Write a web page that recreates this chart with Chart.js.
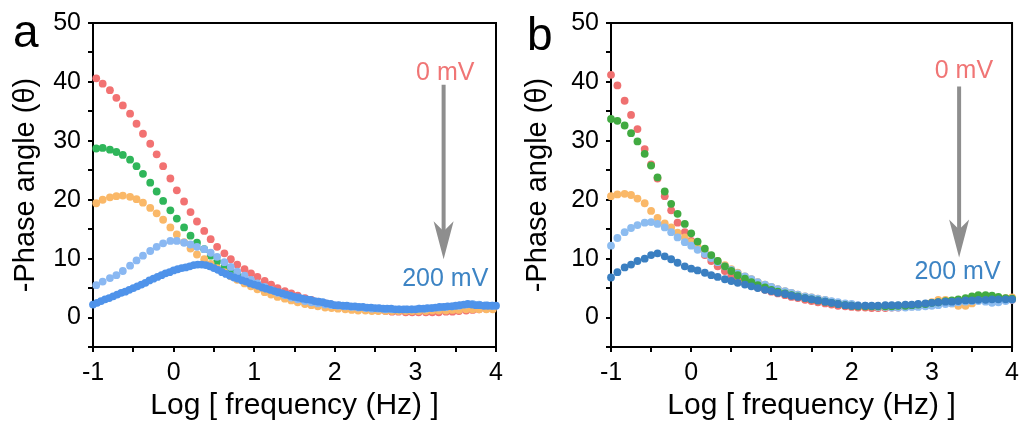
<!DOCTYPE html>
<html><head><meta charset="utf-8">
<script src="https://cdn.jsdelivr.net/npm/chart.js@4.4.0/dist/chart.umd.min.js"></script>
<style>
html,body{margin:0;padding:0;background:#fff;}
#wrap{position:relative;width:1025px;height:425px;overflow:hidden;background:#fff;}
#ca{position:absolute;left:0;top:0;}
#cb{position:absolute;left:512px;top:0;}
</style></head><body>
<div id="wrap"><canvas id="ca" width="512" height="425"></canvas><canvas id="cb" width="513" height="425"></canvas></div>
<script>
// ---------- data ----------
const xTitle = 'Log [ frequency (Hz) ]';
const yTitle = '-Phase angle (\u03B8)';
const labelTop = '0 mV';
const labelBottom = '200 mV';
const panelLetters = ['a', 'b'];

// panel a log(frequency) grid (12 points / decade)
const logfA = [-0.96,-0.88,-0.79,-0.71,-0.63,-0.54,-0.46,-0.38,-0.29,-0.21,-0.13,-0.04,
  0.04,0.13,0.21,0.29,0.38,0.46,0.54,0.63,0.71,0.79,0.88,0.96,
  1.04,1.13,1.21,1.29,1.38,1.46,1.54,1.63,1.71,1.79,1.88,1.96,
  2.04,2.13,2.21,2.29,2.38,2.46,2.54,2.63,2.71,2.79,2.88,2.96,
  3.04,3.13,3.21,3.29,3.38,3.46,3.54,3.63,3.71,3.79,3.88,3.96];
const redA = [40.6,39.7,38.6,37.3,36.0,34.6,32.9,31.2,29.5,27.7,25.7,23.6,
  21.6,19.7,17.9,16.3,14.7,13.3,12.0,10.9,9.9,9.0,8.2,7.5,
  6.9,6.2,5.6,5.0,4.5,4.1,3.7,3.3,3.0,2.7,2.4,2.2,
  2.0,1.8,1.6,1.5,1.4,1.3,1.2,1.1,1.0,1.0,0.9,0.9,
  0.9,0.9,0.9,0.9,1.0,1.0,1.1,1.2,1.3,1.4,1.5,1.6];
const greenA = [28.7,28.8,28.5,28.1,27.6,26.8,25.7,24.4,22.9,21.4,19.8,18.2,
  16.8,15.3,13.9,12.7,11.6,10.5,9.5,8.6,7.9,7.2,6.6,6.0,
  5.5,5.0,4.5,4.1,3.7,3.4,3.1,2.8,2.6,2.4,2.2,2.0,
  1.9,1.8,1.7,1.6,1.5,1.5,1.4,1.4,1.3,1.3,1.3,1.3,
  1.3,1.4,1.4,1.5,1.6,1.7,1.8,1.9,2.0,2.0,1.9,1.9];
const orangeA = [19.4,20.0,20.4,20.6,20.7,20.5,20.1,19.5,18.6,17.7,16.6,15.3,
  14.1,12.8,11.7,10.7,9.9,9.1,8.4,7.7,7.0,6.4,5.8,5.3,
  4.8,4.3,3.9,3.5,3.2,2.9,2.6,2.3,2.1,1.9,1.7,1.6,
  1.5,1.4,1.3,1.2,1.2,1.1,1.1,1.1,1.1,1.1,1.1,1.1,
  1.1,1.1,1.2,1.2,1.2,1.3,1.3,1.4,1.4,1.4,1.4,1.4];
const lightBlueA = [5.5,6.1,6.7,7.2,7.9,8.8,9.7,10.5,11.3,12.0,12.6,13.0,
  13.0,12.7,12.4,12.0,11.6,11.0,10.3,9.4,8.6,7.8,7.1,6.4,
  5.8,5.2,4.7,4.2,3.8,3.4,3.1,2.8,2.6,2.4,2.2,2.1,
  2.0,1.9,1.8,1.7,1.6,1.5,1.5,1.4,1.4,1.4,1.4,1.4,
  1.5,1.5,1.6,1.7,1.8,1.9,2.0,2.2,2.3,2.2,2.1,2.0];
// panel a, 200 mV series measured on a denser grid (20 points / decade)
const logfAdense = [-1.00,-0.95,-0.90,-0.85,-0.80,-0.75,-0.70,-0.65,-0.60,-0.55,
  -0.50,-0.45,-0.40,-0.35,-0.30,-0.25,-0.20,-0.15,-0.10,-0.05,
  0.00,0.05,0.10,0.15,0.20,0.25,0.30,0.35,0.40,0.45,
  0.50,0.55,0.60,0.65,0.70,0.75,0.80,0.85,0.90,0.95,
  1.00,1.05,1.10,1.15,1.20,1.25,1.30,1.35,1.40,1.45,
  1.50,1.55,1.60,1.65,1.70,1.75,1.80,1.85,1.90,1.95,
  2.00,2.05,2.10,2.15,2.20,2.25,2.30,2.35,2.40,2.45,
  2.50,2.55,2.60,2.65,2.70,2.75,2.80,2.85,2.90,2.95,
  3.00,3.05,3.10,3.15,3.20,3.25,3.30,3.35,3.40,3.45,
  3.50,3.55,3.60,3.65,3.70,3.75,3.80,3.85,3.90,3.95,4.00];
const blueA = [2.2,2.5,2.8,3.1,3.3,3.6,3.9,4.2,4.4,4.7,
  5.0,5.3,5.6,5.9,6.3,6.6,6.9,7.2,7.5,7.7,
  8.0,8.2,8.4,8.5,8.7,8.9,9.0,9.0,8.9,8.7,
  8.4,8.1,7.7,7.4,7.1,6.8,6.6,6.3,6.1,5.8,
  5.6,5.4,5.1,4.9,4.7,4.5,4.3,4.1,3.9,3.7,
  3.5,3.4,3.2,3.1,3.0,2.8,2.7,2.6,2.4,2.3,
  2.1,2.1,2.0,2.0,1.9,1.9,1.8,1.8,1.7,1.7,
  1.6,1.6,1.5,1.5,1.5,1.4,1.4,1.4,1.4,1.4,
  1.4,1.5,1.5,1.6,1.6,1.7,1.8,1.8,1.9,1.9,
  2.0,2.1,2.2,2.3,2.2,2.1,2.1,2.0,2.0,2.0,2.0];

// panel b log(frequency) grid (12 points / decade)
const logfB = [-1.00,-0.92,-0.83,-0.75,-0.67,-0.58,-0.50,-0.42,-0.33,-0.25,-0.17,-0.08,
  0.00,0.08,0.17,0.25,0.33,0.42,0.50,0.58,0.67,0.75,0.83,0.92,
  1.00,1.08,1.17,1.25,1.33,1.42,1.50,1.58,1.67,1.75,1.83,1.92,
  2.00,2.08,2.17,2.25,2.33,2.42,2.50,2.58,2.67,2.75,2.83,2.92,
  3.00,3.08,3.17,3.25,3.33,3.42,3.50,3.58,3.67,3.75,3.83,3.92,4.00];
const redB = [41.2,39.4,36.8,34.4,32.0,28.6,26.0,23.6,20.6,18.2,16.1,14.5,
  13.0,11.8,10.6,9.6,8.7,7.9,7.2,6.6,6.0,5.5,5.1,4.7,
  4.4,4.1,3.8,3.5,3.3,3.0,2.8,2.6,2.4,2.2,2.0,1.9,
  1.8,1.7,1.7,1.6,1.6,1.6,1.7,1.7,1.8,1.9,2.0,2.1,
  2.3,2.4,2.5,2.6,2.7,2.8,2.9,3.0,3.0,3.0,3.0,3.0,3.0];
const greenB = [33.7,33.4,32.6,31.3,29.9,27.8,25.8,23.8,21.4,19.3,17.6,15.9,
  14.3,12.9,11.7,10.6,9.6,8.7,7.9,7.2,6.6,6.0,5.5,5.1,
  4.7,4.4,4.1,3.8,3.6,3.3,3.1,2.9,2.7,2.5,2.3,2.1,
  2.0,1.9,1.9,1.9,1.9,1.9,1.9,2.0,2.0,2.1,2.2,2.3,
  2.5,2.6,2.8,2.9,3.1,3.3,3.6,3.8,3.8,3.7,3.5,3.3,3.2];
const orangeB = [20.6,20.9,21.0,20.8,20.2,19.4,18.1,16.9,16.0,15.3,14.4,13.6,
  12.8,12.0,11.2,10.4,9.6,8.9,8.2,7.6,7.0,6.5,6.0,5.6,
  5.2,4.8,4.5,4.2,3.9,3.6,3.4,3.2,3.0,2.7,2.5,2.3,
  2.1,2.0,1.9,1.9,1.8,1.8,1.8,1.8,1.9,1.9,2.0,2.2,
  2.6,3.0,3.0,2.4,2.0,2.0,2.4,2.9,3.2,3.2,3.3,3.3,3.4];
const lightBlueB = [12.2,13.5,14.5,15.2,15.7,16.1,16.2,15.9,15.3,14.5,13.6,12.8,
  12.2,11.5,10.8,10.1,9.4,8.7,8.1,7.5,7.0,6.5,6.0,5.6,
  5.2,4.8,4.5,4.2,3.9,3.6,3.4,3.2,3.0,2.8,2.6,2.4,
  2.3,2.1,2.0,1.9,1.8,1.8,1.7,1.7,1.7,1.8,1.8,1.9,
  2.0,2.1,2.3,2.4,2.6,2.7,2.8,2.8,2.7,2.5,2.6,2.8,3.0];
const blueB = [6.8,7.7,8.5,9.0,9.6,10.0,10.6,10.9,10.4,9.9,9.3,8.7,
  8.3,8.0,7.6,7.2,6.9,6.5,6.2,5.9,5.6,5.3,5.0,4.7,
  4.5,4.2,4.0,3.7,3.5,3.3,3.1,2.9,2.7,2.5,2.3,2.1,
  2.0,2.0,2.0,2.0,2.0,2.1,2.1,2.1,2.2,2.2,2.3,2.4,
  2.5,2.6,2.7,2.7,2.8,2.9,2.9,3.0,3.0,3.1,3.1,3.1,3.1];

// ---------- helpers ----------
const FONT = '"Liberation Sans", Arial, Helvetica, sans-serif';
const pts = (xs, ys) => xs.map((x, i) => ({x: x, y: ys[i]}));
const ds = (xs, ys, color) => ({
  data: pts(xs, ys), backgroundColor: color, borderColor: color,
  borderWidth: 0, pointRadius: 3.9, pointHoverRadius: 0, showLine: false, clip: false
});

const decor = {
  id: 'decor',
  beforeDatasetsDraw(chart) {
    const {ctx, chartArea: a} = chart;
    ctx.save();
    ctx.strokeStyle = '#000'; ctx.lineWidth = 2;
    ctx.strokeRect(a.left, a.top, a.right - a.left, a.bottom - a.top);
    ctx.restore();
  },
  afterDraw(chart, args, o) {
    const {ctx, scales: {x, y}} = chart;
    ctx.save();
    ctx.fillStyle = '#000';
    ctx.font = '46px ' + FONT;
    ctx.textAlign = 'left'; ctx.textBaseline = 'alphabetic';
    ctx.fillText(o.letter, o.letterX, o.letterY);
    // arrow
    const ax = x.getPixelForValue(o.arrowX);
    const y0 = y.getPixelForValue(o.arrowFrom);
    const y1 = y.getPixelForValue(o.arrowTo);
    ctx.strokeStyle = '#8e8e8e'; ctx.fillStyle = '#8e8e8e'; ctx.lineWidth = 4;
    ctx.beginPath(); ctx.moveTo(ax, y0); ctx.lineTo(ax, y1 - 26); ctx.stroke();
    ctx.beginPath();
    ctx.moveTo(ax, y1);
    ctx.lineTo(ax - 10, y1 - 38);
    ctx.lineTo(ax, y1 - 28);
    ctx.lineTo(ax + 10, y1 - 38);
    ctx.closePath(); ctx.fill();
    // labels
    ctx.font = '25px ' + FONT;
    ctx.textAlign = 'center';
    ctx.fillStyle = '#f07575';
    ctx.fillText(labelTop, x.getPixelForValue(o.topX), y.getPixelForValue(o.topY));
    ctx.fillStyle = '#3d84c4';
    ctx.fillText(labelBottom, x.getPixelForValue(o.botX), y.getPixelForValue(o.botY));
    ctx.restore();
  }
};

function makeChart(id, datasets, yWidth, padRight, deco) {
  return new Chart(document.getElementById(id), {
    type: 'scatter',
    data: {datasets: datasets},
    plugins: [decor],
    options: {
      responsive: false, animation: false, devicePixelRatio: 1,
      layout: {padding: {left: 0, right: padRight, top: 23, bottom: 0}},
      plugins: {legend: {display: false}, tooltip: {enabled: false}, decor: deco},
      scales: {
        x: {
          type: 'linear', min: -1, max: 4, offset: false,
          afterFit: s => { s.height = 78; },
          border: {display: true, color: '#000', width: 2},
          grid: {display: true, drawOnChartArea: false, drawTicks: true, tickLength: 5, color: '#000', lineWidth: 2},
          ticks: {stepSize: 0.5, autoSkip: false, maxRotation: 0, padding: 6, color: '#000',
            font: {family: FONT, size: 25},
            callback: v => Number.isInteger(v) ? String(v) : ''},
          title: {display: true, text: xTitle, color: '#000', font: {family: FONT, size: 30}, padding: {top: 0, bottom: 1}}
        },
        y: {
          type: 'linear', min: -5, max: 50,
          afterFit: s => { s.width = yWidth; },
          border: {display: true, color: '#000', width: 2},
          grid: {display: true, drawOnChartArea: false, drawTicks: true, tickLength: 5, color: '#000', lineWidth: 2},
          ticks: {stepSize: 5, autoSkip: false, padding: 7, color: '#000',
            font: {family: FONT, size: 25},
            callback: v => (v >= 0 && v % 10 === 0) ? String(v) : ''},
          title: {display: true, text: yTitle, color: '#000', font: {family: FONT, size: 29}, padding: {top: 9, bottom: 0}}
        }
      }
    }
  });
}

makeChart('ca', [
  ds(logfAdense, blueA, '#4f93ea'),
  ds(logfA, lightBlueA, '#8ab8f2'),
  ds(logfA, orangeA, '#fab868'),
  ds(logfA, greenA, '#2fb65a'),
  ds(logfA, redA, '#f27272')
], 93, 16, {letter: panelLetters[0], letterX: 13, letterY: 47,
  arrowX: 3.35, arrowFrom: 39.5, arrowTo: 9.9,
  topX: 3.37, topY: 40.4, botX: 3.37, botY: 5.3});

makeChart('cb', [
  ds(logfB, blueB, '#3a7fc1'),
  ds(logfB, greenB, '#41aa41'),
  ds(logfB, lightBlueB, '#8cbcf0'),
  ds(logfB, orangeB, '#fab868'),
  ds(logfB, redB, '#ef7070')
], 99, 12, {letter: panelLetters[1], letterX: 15, letterY: 50,
  arrowX: 3.34, arrowFrom: 39.2, arrowTo: 10.2,
  topX: 3.40, topY: 40.7, botX: 3.32, botY: 6.5});
</script>
</body></html>
